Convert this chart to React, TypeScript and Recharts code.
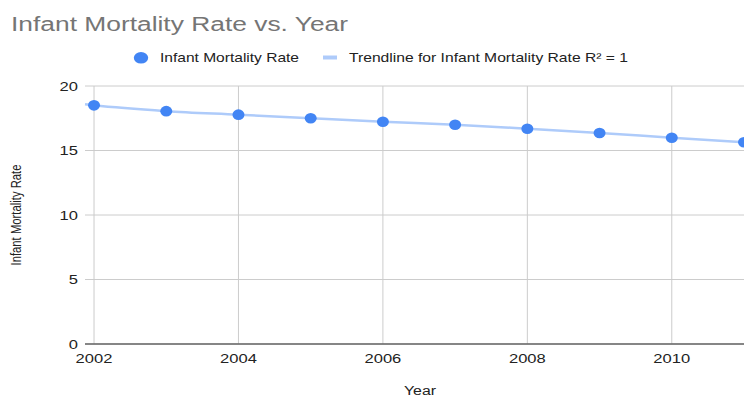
import React from "react";
import {
  ComposedChart,
  Scatter,
  Line,
  XAxis,
  YAxis,
  CartesianGrid,
  Label,
} from "recharts";

const years = [2002, 2003, 2004, 2005, 2006, 2007, 2008, 2009, 2010, 2011];
const mortality = [18.5, 18.05, 17.78, 17.5, 17.23, 17.0, 16.69, 16.36, 15.99, 15.64];
// fitted trendline, starting at the left edge of the plotting area
const trendYears = [2001.875, 2002, 2003, 2004, 2005, 2006, 2007, 2008, 2009, 2010, 2011];
const trendValues = [18.58, 18.5, 18.05, 17.78, 17.5, 17.23, 17.0, 16.69, 16.36, 15.99, 15.64];
const yearTicks = [2002, 2004, 2006, 2008, 2010];
const rateTicks = [0, 5, 10, 15, 20];

const pointRows = years.map((year, i) => ({ year, rate: mortality[i] }));
const trendRows = trendYears.map((year, i) => ({ year, trend: trendValues[i] }));

const FONT = "Arimo, 'Liberation Sans', Arial, sans-serif";
const POINT = "#4285f4";
const TREND = "#aecbfa";
const INK = "#222222";
// glyphs are drawn a little wider than the font's natural width
const WIDEN = 1.27;
const DIGIT_W = 9.2;

const XTick = (props: any) => {
  const label = String(props.payload.value);
  return (
    <text
      x={props.x}
      y={363}
      textAnchor="middle"
      fontFamily={FONT}
      fontSize={13}
      fill={INK}
      textLength={label.length * DIGIT_W}
      lengthAdjust="spacingAndGlyphs"
    >
      {label}
    </text>
  );
};

const YTick = (props: any) => {
  const label = String(props.payload.value);
  return (
    <text
      x={78}
      y={props.y + 4.6}
      textAnchor="end"
      fontFamily={FONT}
      fontSize={13}
      fill={INK}
      textLength={label.length * DIGIT_W}
      lengthAdjust="spacingAndGlyphs"
    >
      {label}
    </text>
  );
};

const Dot = (props: any) => <ellipse cx={props.cx} cy={props.cy} rx={6} ry={5.3} fill={POINT} />;

const Header = () => (
  <svg width={744} height={80} style={{ position: "absolute", left: 0, top: 0, pointerEvents: "none" }}>
    <text
      x={11}
      y={31}
      fontFamily={FONT}
      fontSize={19.5}
      fill="#757575"
      textLength={337}
      lengthAdjust="spacingAndGlyphs"
    >
      Infant Mortality Rate vs. Year
    </text>
    <ellipse cx={141} cy={57.8} rx={7.2} ry={5.8} fill={POINT} />
    <text
      x={160}
      y={62.3}
      fontFamily={FONT}
      fontSize={13}
      fill={INK}
      textLength={139}
      lengthAdjust="spacingAndGlyphs"
    >
      Infant Mortality Rate
    </text>
    <line x1={323} x2={337} y1={57.5} y2={57.5} stroke={TREND} strokeWidth={4} />
    <text
      x={349}
      y={62.3}
      fontFamily={FONT}
      fontSize={13}
      fill={INK}
      textLength={279}
      lengthAdjust="spacingAndGlyphs"
    >
      Trendline for Infant Mortality Rate R² = 1
    </text>
  </svg>
);

export default function App() {
  return (
    <div
      style={{
        position: "absolute",
        left: 0,
        top: 0,
        width: 744,
        height: 397,
        background: "#fff",
        overflow: "hidden",
      }}
    >
      <ComposedChart
        width={744}
        height={397}
        margin={{ top: 86, right: 0, bottom: 0, left: 0 }}
        style={{ fontFamily: FONT }}
      >
        <CartesianGrid
          stroke="#cccccc"
          strokeWidth={1}
          verticalValues={yearTicks}
          horizontalValues={rateTicks}
        />
        <XAxis
          type="number"
          dataKey="year"
          domain={[2001.875, 2011]}
          ticks={yearTicks}
          height={53}
          tickLine={false}
          tickSize={0}
          axisLine={{ stroke: "#666666", strokeWidth: 1.5 }}
          tick={<XTick />}
        >
          <Label
            value="Year"
            content={() => (
              <text
                x={420}
                y={395}
                textAnchor="middle"
                fontFamily={FONT}
                fontSize={12}
                fill={INK}
                textLength={32}
                lengthAdjust="spacingAndGlyphs"
              >
                Year
              </text>
            )}
          />
        </XAxis>
        <YAxis
          type="number"
          domain={[0, 20]}
          ticks={rateTicks}
          width={85}
          axisLine={false}
          tickLine={false}
          tickSize={0}
          tick={<YTick />}
        >
          <Label
            value="Infant Mortality Rate"
            content={({ viewBox }: any) => {
              const cy = viewBox.y + viewBox.height / 2;
              return (
                <text
                  transform={`translate(21 ${cy}) scale(${WIDEN} 1) rotate(-90)`}
                  x={0}
                  y={0}
                  textAnchor="middle"
                  fontFamily={FONT}
                  fontSize={11.5}
                  fill={INK}
                  textLength={101}
                  lengthAdjust="spacingAndGlyphs"
                >
                  Infant Mortality Rate
                </text>
              );
            }}
          />
        </YAxis>
        <Line
          data={trendRows}
          dataKey="trend"
          type="monotone"
          stroke={TREND}
          strokeWidth={2.5}
          dot={false}
          activeDot={false}
          isAnimationActive={false}
          legendType="none"
        />
        <Scatter data={pointRows} dataKey="rate" fill={POINT} shape={Dot} isAnimationActive={false} />
      </ComposedChart>
      <Header />
    </div>
  );
}
